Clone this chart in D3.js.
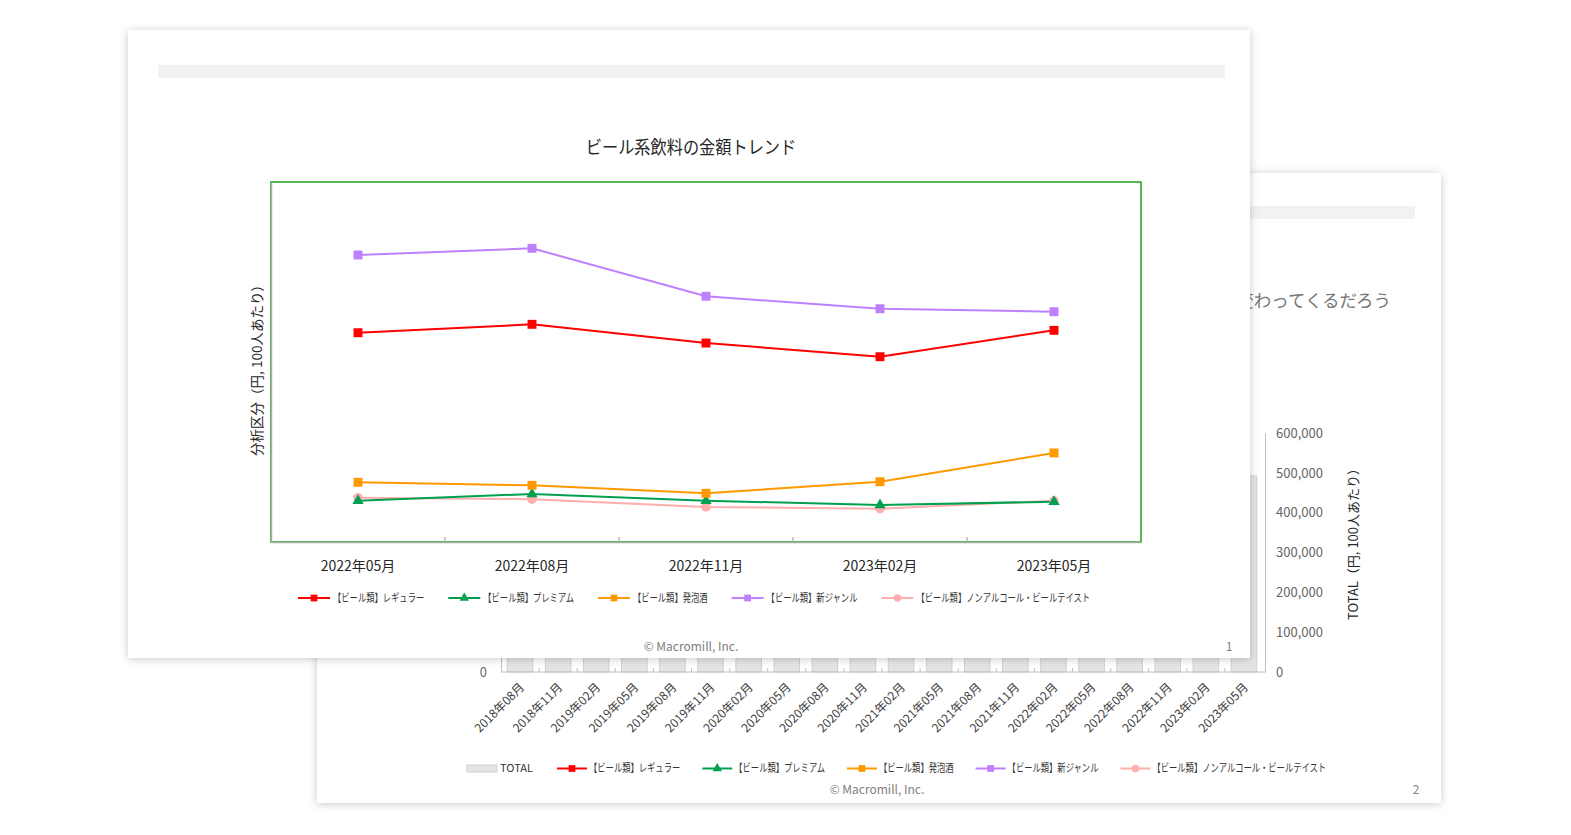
<!DOCTYPE html>
<html><head><meta charset="utf-8">
<script src="https://cdn.jsdelivr.net/npm/d3@7"></script>
<style>
html,body{margin:0;padding:0;background:#fff;}
svg{display:block;}
text{font-family:"Noto Sans CJK JP","Noto Sans",sans-serif;}
</style>
</head><body>
<svg id="c" width="1571" height="835"></svg>
<script>
// ---------- data (front slide) ----------
const chartTitle = "ビール系飲料の金額トレンド";
const yTitle = "分析区分（円, 100人あたり）";
const categories = ["2022年05月","2022年08月","2022年11月","2023年02月","2023年05月"];
const seriesNames = ["【ビール類】レギュラー","【ビール類】プレミアム","【ビール類】発泡酒","【ビール類】新ジャンル","【ビール類】ノンアルコール・ビールテイスト"];
const regular    = [174400,181400,165800,154400,176400];
const premium    = [34400,40000,34400,30800,33600];
const happoshu   = [49750,47250,40600,50250,74200];
const shinGenre  = [239200,244750,204750,194400,191900];
const nonAlcohol = [36900,35600,29200,27750,34400];
const footerText = "© Macromill, Inc.";

// ---------- data (back slide) ----------
const backSubtitle = "変わってくるだろう";
const backCategories = ["2018年08月","2018年11月","2019年02月","2019年05月","2019年08月","2019年11月","2020年02月","2020年05月","2020年08月","2020年11月","2021年02月","2021年05月","2021年08月","2021年11月","2022年02月","2022年05月","2022年08月","2022年11月","2023年02月","2023年05月"];
const backTotal = [505000,498000,489000,502000,515000,507000,496000,530000,521000,512000,497000,520000,516000,509000,494000,515000,528000,470000,455000,492000];
const backRightTicks = [0,100000,200000,300000,400000,500000,600000];
const backLeftTicks = [0,50000,100000,150000,200000,250000,300000];
const backRightTitle = "TOTAL（円, 100人あたり）";
const backLegendTotal = "TOTAL";

// ---------- styles ----------
const seriesData = [regular, premium, happoshu, shinGenre, nonAlcohol];
const seriesColors = ["#ff0000","#00a050","#ff9900","#bf80ff","#ffadad"];
const seriesSymbols = [d3.symbolSquare, d3.symbolTriangle, d3.symbolSquare, d3.symbolSquare, d3.symbolCircle];
const markerSizes = [80, 55, 80, 80, 70];
const legendMarkerSizes = [46, 38, 46, 46, 44];

const svg = d3.select("#c");
const defs = svg.append("defs");
const flt = defs.append("filter").attr("id","sh").attr("x","-5%").attr("y","-5%").attr("width","110%").attr("height","110%");
flt.append("feDropShadow").attr("dx",0).attr("dy",1).attr("stdDeviation",4).attr("flood-color","#000").attr("flood-opacity",0.22);

// condensed text using a horizontal scale transform; returns scaled width
function condensedText(g, x, y, str, size, k, fill){
  const t = g.append("text").attr("x",0).attr("y",0).attr("dy","0.35em")
    .attr("font-size",size).attr("fill",fill).text(str)
    .attr("transform",`translate(${x},${y}) scale(${k},1)`);
  return t.node().getComputedTextLength()*k;
}

function lineLegend(g, x0, y, opt){
  let x = x0;
  seriesNames.forEach((name,i)=>{
    g.append("line").attr("x1",x).attr("x2",x+opt.lineLen).attr("y1",y).attr("y2",y)
      .attr("stroke",seriesColors[i]).attr("stroke-width",2);
    g.append("path").attr("d", d3.symbol().type(seriesSymbols[i]).size(legendMarkerSizes[i])())
      .attr("transform",`translate(${x+opt.lineLen/2},${y})`).attr("fill",seriesColors[i]);
    const w = condensedText(g, x+opt.lineLen+opt.textGap, y, name, 11, 0.755, "#333");
    x = x + opt.lineLen + opt.textGap + w + opt.itemGap;
  });
}

// ================= BACK SLIDE =================
const back = svg.append("g");
back.append("rect").attr("x",317).attr("y",173).attr("width",1124).attr("height",630)
  .attr("fill","#fff").attr("filter","url(#sh)");
back.append("rect").attr("x",347).attr("y",206).attr("width",1068).attr("height",13).attr("fill","#f2f2f2");
back.append("text").attr("x",1391).attr("y",307).attr("text-anchor","end")
  .attr("font-size",17.5).attr("fill","#777").text(backSubtitle);

const xB = d3.scaleBand().domain(backCategories).range([501,1263]).paddingInner(0.33).paddingOuter(0.165);
const yB = d3.scaleLinear().domain([0,600000]).range([672,433]);
const yBL = d3.scaleLinear().domain([0,300000]).range([672,433]);

back.selectAll("rect.bar").data(backTotal).join("rect").attr("class","bar")
  .attr("x",(d,i)=>xB(backCategories[i])).attr("y",d=>yB(d))
  .attr("width",xB.bandwidth()).attr("height",d=>yB(0)-yB(d))
  .attr("fill","#e4e4e2").attr("stroke","#d0d0ce");

// bottom axis (domain line + boundary ticks)
const gxB = back.append("g").attr("transform","translate(0,672)")
  .call(d3.axisBottom(xB).tickSize(0).tickFormat(""));
gxB.select(".domain").attr("stroke","#bfbfbf").attr("d","M501,0H1265");
const stepB = xB.step();
back.selectAll("line.btick").data(backCategories.slice(1)).join("line").attr("class","btick")
  .attr("x1",d=>xB(d)-stepB*xB.paddingInner()/2).attr("x2",d=>xB(d)-stepB*xB.paddingInner()/2)
  .attr("y1",672).attr("y2",668).attr("stroke","#bfbfbf");
back.selectAll("text.blab").data(backCategories).join("text").attr("class","blab")
  .attr("text-anchor","end").attr("font-size",12).attr("fill","#404040")
  .attr("transform",d=>`translate(${xB(d)+xB.bandwidth()/2+5},688) rotate(-45)`)
  .text(d=>d);

// right axis
const gyR = back.append("g").attr("transform","translate(1265,0)")
  .call(d3.axisRight(yB).tickValues(backRightTicks).tickSize(0).tickPadding(11).tickFormat(d3.format(",")));
gyR.select(".domain").attr("stroke","#bfbfbf");
gyR.selectAll("text").attr("font-size",13).attr("fill","#666").attr("font-family","'Noto Sans','Noto Sans CJK JP',sans-serif");

// left axis
const gyL = back.append("g").attr("transform","translate(501,0)")
  .call(d3.axisLeft(yBL).tickValues(backLeftTicks).tickSize(0).tickPadding(14).tickFormat(d3.format(",")));
gyL.select(".domain").attr("stroke","#bfbfbf");
gyL.selectAll("text").attr("font-size",13).attr("fill","#666").attr("font-family","'Noto Sans','Noto Sans CJK JP',sans-serif");

back.append("text").attr("transform","translate(1353,541) rotate(-90)").attr("text-anchor","middle")
  .attr("dy","0.35em").attr("font-size",13).attr("fill","#262626").text(backRightTitle);

// back legend
const bl = back.append("g");
bl.append("rect").attr("x",467).attr("y",765).attr("width",30).attr("height",7).attr("fill","#e4e4e2").attr("stroke","#d0d0ce");
bl.append("text").attr("x",500).attr("y",768.5).attr("dy","0.35em").attr("font-size",11).attr("fill","#333").text(backLegendTotal);
lineLegend(bl, 557, 768.5, {lineLen:30, textGap:2, itemGap:22});

back.append("text").attr("x",877).attr("y",794).attr("text-anchor","middle").attr("font-size",12).attr("fill","#808080").text(footerText);
back.append("text").attr("x",1416).attr("y",794).attr("text-anchor","middle").attr("font-size",12).attr("fill","#808080").text("2");

// ================= FRONT SLIDE =================
const front = svg.append("g");
front.append("rect").attr("x",128).attr("y",30).attr("width",1122).attr("height",628)
  .attr("fill","#fff").attr("filter","url(#sh)");
front.append("rect").attr("x",158).attr("y",65).attr("width",1067).attr("height",13).attr("fill","#f2f2f2");

const ttlW = condensedText(front, 0, 0, chartTitle, 18, 0.9, "#262626");
front.select("text:last-of-type").remove();
condensedText(front, 691 - ttlW/2, 148, chartTitle, 18, 0.9, "#262626");

const x = d3.scaleBand().domain(categories).range([271,1141]);
const y = d3.scaleLinear().domain([0,300000]).range([542,182]);

// plot-area border (green)
front.append("rect").attr("x",271).attr("y",182).attr("width",870).attr("height",360)
  .attr("fill","none").attr("stroke","#1ea01e").attr("stroke-width",1.5);

// axes
const gy = front.append("g").attr("transform","translate(271,0)")
  .call(d3.axisLeft(y).tickValues([]).tickSizeOuter(0));
gy.select(".domain").attr("stroke","#a6aea6").attr("stroke-width",1.5);
const gx = front.append("g").attr("transform","translate(0,542)")
  .call(d3.axisBottom(x).tickSize(0).tickPadding(19));
gx.select(".domain").attr("stroke","#a6aea6").attr("stroke-width",1.5);
gx.selectAll("text").attr("font-size",14).attr("fill","#262626")
  .attr("font-family","'Noto Sans CJK JP','Noto Sans',sans-serif");
front.selectAll("line.ftick").data(categories.slice(1)).join("line").attr("class","ftick")
  .attr("x1",d=>x(d)).attr("x2",d=>x(d)).attr("y1",542).attr("y2",537).attr("stroke","#999");

front.append("text").attr("transform","translate(257,367) rotate(-90)").attr("text-anchor","middle")
  .attr("dy","0.35em").attr("font-size",13.5).attr("fill","#262626").text(yTitle);

// lines + markers
const cx = c => x(c) + x.bandwidth()/2;
const lineGen = d3.line().x((d,i)=>cx(categories[i])).y(d=>y(d));
const drawOrder = [4,1,2,0,3];
drawOrder.forEach(si=>{
  front.append("path").datum(seriesData[si]).attr("d",lineGen)
    .attr("fill","none").attr("stroke",seriesColors[si]).attr("stroke-width",2);
});
drawOrder.forEach(si=>{
  front.selectAll(null).data(seriesData[si]).join("path")
    .attr("d", d3.symbol().type(seriesSymbols[si]).size(markerSizes[si])())
    .attr("transform",(d,i)=>`translate(${cx(categories[i])},${y(d)})`)
    .attr("fill",seriesColors[si]);
});

// front legend
lineLegend(front.append("g"), 298, 598, {lineLen:32, textGap:3, itemGap:24});

front.append("text").attr("x",691).attr("y",651).attr("text-anchor","middle").attr("font-size",12).attr("fill","#808080").text(footerText);
front.append("text").attr("x",1229).attr("y",651).attr("text-anchor","middle").attr("font-size",12).attr("fill","#808080").text("1");
</script>
</body></html>
